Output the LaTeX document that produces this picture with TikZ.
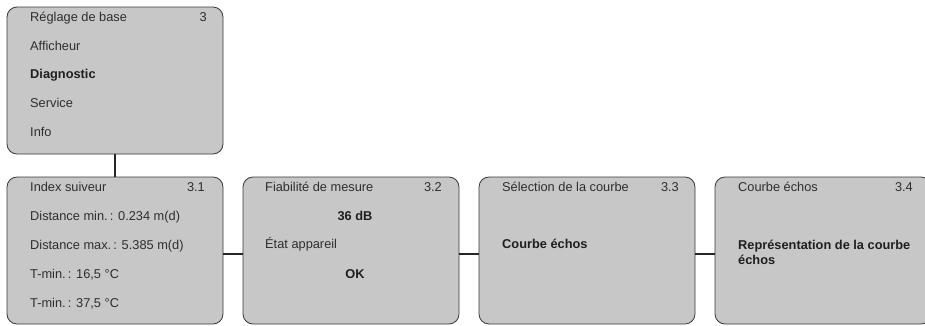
\documentclass[tikz,border=0pt]{standalone}
\usepackage{fontspec}
\setmainfont{Liberation Sans}

\begin{document}
\begin{tikzpicture}[x=1pt, y=-1pt,
	menubox/.style={draw=black!78, line width=0.8pt, fill=black!22, rounded corners=10pt,
		minimum width=216pt, minimum height=147pt, inner sep=0pt, outer sep=0pt, anchor=north west},
	entry/.style={anchor=base west, inner sep=0pt, text=black!82, font=\fontsize{12.8}{15}\selectfont},
	entrybold/.style={entry, text=black!88, font=\fontsize{12.8}{15}\selectfont\bfseries},
	menunr/.style={anchor=base east, inner sep=0pt, text=black!82, font=\fontsize{12.8}{15}\selectfont},
	link/.style={line width=2.4pt, color=black!85}]
			%%%%% START %%%%%
			
			\useasboundingbox (0, 0) rectangle (925, 325);
			
			% menu boxes
			\node[menubox] (main) at (7, 7) {};
			\node[menubox] (index) at (7, 177) {};
			\node[menubox] (quality) at (243, 177) {};
			\node[menubox] (select) at (479, 177) {};
			\node[menubox] (curve) at (715, 177) {};
			
			% connectors
			\draw[link] (main.south) -- (index.north);
			\draw[link] ([yshift=-3.5pt]index.east) -- ([yshift=-3.5pt]quality.west);
			\draw[link] ([yshift=-3.5pt]quality.east) -- ([yshift=-3.5pt]select.west);
			\draw[link] ([yshift=-3.5pt]select.east) -- ([yshift=-3.5pt]curve.west);
			
			% main menu
			\node[entry] (basic) at (30, 21) {Réglage de base};
			\node[menunr] (basicnr) at (207, 21) {3};
			\node[entry] (display) at (30, 50) {Afficheur};
			\node[entrybold] (diag) at (30, 78.5) {Diagnostic};
			\node[entry] (service) at (30, 107) {Service};
			\node[entry] (info) at (30, 136) {Info};
			
			% 3.1
			\node[entry] (indextitle) at (30, 191) {Index suiveur};
			\node[menunr] (indexnr) at (205, 191) {3.1};
			\node[entry] (distmin) at (30, 220) {Distance min.\,: 0.234 m(d)};
			\node[entry] (distmax) at (30, 249) {Distance max.\,: 5.385 m(d)};
			\node[entry] (tmin) at (30, 278) {T-min.\,: 16,5 °C};
			\node[entry] (tmax) at (30, 307) {T-min.\,: 37,5 °C};
			
			% 3.2
			\node[entry] (qualitytitle) at (265, 191) {Fiabilité de mesure};
			\node[menunr] (qualitynr) at (442, 191) {3.2};
			\node[entrybold, anchor=base] (db) at (355, 220) {36 dB};
			\node[entry] (state) at (265, 248) {État appareil};
			\node[entrybold, anchor=base] (ok) at (355, 278) {OK};
			
			% 3.3
			\node[entry] (selecttitle) at (502, 191) {Sélection de la courbe};
			\node[menunr] (selectnr) at (679, 191) {3.3};
			\node[entrybold] (echo) at (502, 248) {Courbe échos};
			
			% 3.4
			\node[entry] (curvetitle) at (738, 191) {Courbe échos};
			\node[menunr] (curvenr) at (913, 191) {3.4};
			\node[entrybold] (repr) at (738, 249) {Représentation de la courbe};
			\node[entrybold] (reprb) at (738, 264) {échos};
			
			%%%%% END %%%%%
\end{tikzpicture}
\end{document}
